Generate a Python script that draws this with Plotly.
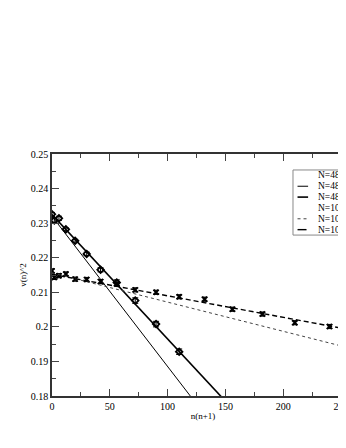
import plotly.graph_objects as go

# measured points
n48_x = [0, 2, 6, 12, 20, 30, 42, 56, 72, 90, 110]
n48_y = [0.2326, 0.2308, 0.2314, 0.2282, 0.2249, 0.2211, 0.2165, 0.2128, 0.2076, 0.2008, 0.1928]
n48_err = [0.0005, 0.0006, 0.0006, 0.0004, 0.0004, 0.0005, 0.0006, 0.0008, 0.0008, 0.0008, 0.0008]

n108_x = [0, 2, 6, 12, 20, 30, 42, 56, 72, 90, 110, 132, 156, 182, 210, 240]
n108_y = [0.2162, 0.2143, 0.2148, 0.2153, 0.2138, 0.2137, 0.2131, 0.2124, 0.2107,
          0.2100, 0.2087, 0.2080, 0.2051, 0.2037, 0.2012, 0.2001]
n108_err = [0.0006] * 16

fit48a_x = [0, 150]
fit48a_y = [0.2320, 0.1668]
fit48b_x = [0, 150]
fit48b_y = [0.2325, 0.1785]
fit108a_x = [0, 270]
fit108a_y = [0.2156, 0.1928]
fit108b_x = [0, 270]
fit108b_y = [0.2152, 0.1984]

legend_labels = ["N=48", "N=48", "N=48", "N=108", "N=108", "N=108"]

FONT = "Liberation Serif"

fig = go.Figure()
fig.add_trace(go.Scatter(x=n48_x, y=n48_y, mode="markers",
                         marker=dict(symbol="diamond-open", size=5, color="black",
                                     line=dict(width=1.8, color="black")),
                         error_y=dict(type="data", array=n48_err, color="black",
                                      thickness=1, width=3)))
fig.add_trace(go.Scatter(x=fit48a_x, y=fit48a_y, mode="lines",
                         line=dict(color="black", width=1)))
fig.add_trace(go.Scatter(x=fit48b_x, y=fit48b_y, mode="lines",
                         line=dict(color="black", width=1.6)))
fig.add_trace(go.Scatter(x=n108_x, y=n108_y, mode="markers",
                         marker=dict(symbol="x-thin", size=5, color="black",
                                     line=dict(width=2, color="black")),
                         error_y=dict(type="data", array=n108_err, color="black",
                                      thickness=1, width=3)))
fig.add_trace(go.Scatter(x=fit108a_x, y=fit108a_y, mode="lines",
                         line=dict(color="#444", width=1, dash="dot")))
fig.add_trace(go.Scatter(x=fit108b_x, y=fit108b_y, mode="lines",
                         line=dict(color="black", width=1.4, dash="5px,3px")))

# hand-made legend box
lx0, lx1 = 0.798, 1.0
ly0, ly1 = 0.665, 0.934
rows = [ly1 - (i + 0.5) * (ly1 - ly0) / 6 for i in range(6)]
shapes = [dict(type="rect", xref="paper", yref="paper", x0=lx0, x1=lx1, y0=ly0, y1=ly1,
               line=dict(color="#888", width=1), fillcolor="white", layer="above")]
line_styles = {1: dict(color="black", width=1), 2: dict(color="black", width=1.6),
               4: dict(color="#444", width=1, dash="dot"),
               5: dict(color="black", width=1.4, dash="dash")}
for i, st in line_styles.items():
    shapes.append(dict(type="line", xref="paper", yref="paper", x0=0.813, x1=0.848,
                       y0=rows[i], y1=rows[i], line=st, layer="above"))
annotations = [dict(xref="paper", yref="paper", x=0.879, y=r, text=t, showarrow=False,
                    xanchor="left", yanchor="middle", borderpad=0,
                    font=dict(family=FONT, size=9.5, color="black"))
               for r, t in zip(rows, legend_labels)]

fig.add_trace(go.Scatter(x=[0.829], y=[rows[0]], xaxis="x2", yaxis="y2", mode="markers",
                         marker=dict(symbol="diamond-open", size=5, color="black",
                                     line=dict(width=1.8, color="black"))))
fig.add_trace(go.Scatter(x=[0.829], y=[rows[3]], xaxis="x2", yaxis="y2", mode="markers",
                         marker=dict(symbol="x-thin", size=5, color="black",
                                     line=dict(width=2, color="black"))))

axis_common = dict(showgrid=False, zeroline=False, showline=True, linecolor="#333",
                   linewidth=1.5, ticks="inside", ticklen=7, tickwidth=1.2, tickcolor="#444",
                   tickfont=dict(family=FONT, size=10, color="black"))

fig.update_layout(
    width=346, height=448,
    margin=dict(l=44, r=0, t=146, b=60),
    paper_bgcolor="white", plot_bgcolor="white",
    showlegend=False,
    shapes=shapes, annotations=annotations,
    xaxis=dict(range=[0, 261.2], dtick=50, mirror="ticks", ticklabeloverflow="allow",
               minor=dict(dtick=25, ticks="inside", ticklen=4, tickcolor="#444"),
               title=dict(text="n(n+1)", font=dict(family=FONT, size=9, color="black"), standoff=2),
               **axis_common),
    yaxis=dict(range=[0.18, 0.25], dtick=0.01, tickformat="~g",
               minor=dict(dtick=0.005, ticks="inside", ticklen=4, tickcolor="#444"),
               title=dict(text="v(n)^2", font=dict(family=FONT, size=9, color="black"), standoff=3),
               **axis_common),
    xaxis2=dict(overlaying="x", range=[0, 1], domain=[0, 1], visible=False, anchor="y2"),
    yaxis2=dict(overlaying="y", range=[0, 1], visible=False, anchor="x2"),
)

fig.write_html("out.html")
